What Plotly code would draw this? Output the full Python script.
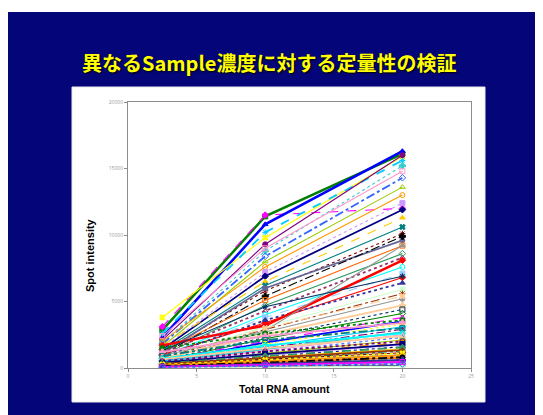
import plotly.graph_objects as go

# ---- data ----
rna_amount = [2.5, 10, 20]
x_tick_vals = [0, 5, 10, 15, 20, 25]
x_tick_text = ["0", "5", "10", "15", "20", "25"]
y_tick_vals = [0, 5000, 10000, 15000, 20000]
y_tick_text = ["0", "5000", "10000", "15000", "20000"]

intensity_at_2_5 = [2850, 3100, 2300, 3800, 2600, 2100, 1900, 2400, 1800, 1600,
                    2000, 1500, 1400, 1700, 1300, 1200, 1100, 1000, 1250, 950,
                    1100, 900, 800, 1000, 850, 700, 750, 650, 700, 600,
                    550, 600, 500, 450, 500, 400, 450, 350, 400, 300,
                    350, 250, 300, 200, 250, 150, 200, 150, 120, 100,
                    90, 80, 60, 50, 40, 30, 1700, 900, 600, 1300,
                    1500, 1200, 900, 700, 650, 500, 400, 350, 300, 250,
                    200, 150, 100, 80, 60]
intensity_at_10 = [11400, 11500, 10800, 9800, 10200, 9300, 8800, 9000, 8400, 8000,
                   7600, 7200, 6900, 6500, 6200, 5800, 6000, 5400, 5100, 4700,
                   4300, 4000, 3800, 3400, 3600, 3100, 2900, 2700, 2500, 2300,
                   2200, 2000, 1900, 1800, 1600, 1500, 1400, 1300, 1200, 1100,
                   1000, 950, 850, 800, 700, 650, 550, 480, 420, 350,
                   300, 250, 200, 150, 100, 70, 3200, 2800, 3000, 4600,
                   2600, 2400, 2100, 1700, 1500, 1250, 1050, 900, 750, 600,
                   500, 400, 320, 240, 170]
intensity_at_20 = [16100, 12000, 16300, 15900, 15600, 16000, 15200, 14800, 14300, 13600,
                   13000, 12400, 11900, 11300, 10600, 10100, 9600, 9900, 9200, 8600,
                   8300, 7600, 7100, 6800, 6400, 5900, 5600, 5200, 4700, 4400,
                   4100, 3800, 3500, 3300, 3100, 2900, 2700, 2500, 2300, 2100,
                   1900, 1750, 1600, 1450, 1300, 1150, 1000, 900, 780, 650,
                   550, 450, 350, 250, 180, 120, 8100, 9200, 5400, 6900,
                   3600, 3400, 3000, 2600, 2400, 2000, 1800, 1550, 1350, 1100,
                   950, 800, 600, 450, 300]

# ---- styles ----
palette = ["#008000", "#FF00FF", "#0000FF", "#FFFF00", "#00CCFF", "#800080", "#33CCCC",
           "#FF99CC", "#3366FF", "#99CC00", "#FF9900", "#CC99FF", "#000080", "#FFCC00",
           "#008080", "#800000", "#666699", "#000000", "#FF6600", "#339966",
           "#993366", "#00FFFF", "#99CCFF", "#FF0000", "#333399", "#CCFFCC", "#993300",
           "#969696", "#FFCC99", "#003366"]
markers = ["square", "diamond", "triangle-up", "x", "asterisk", "circle", "cross",
           "square-open", "diamond-open", "triangle-up-open", "circle-open"]
dashes = ["solid", "solid", "dot", "solid", "dash", "solid", "dot", "solid", "dashdot"]

fig = go.Figure()
n = len(intensity_at_20)
for i in range(n):
    col = palette[(i * 7) % len(palette)] if i >= 60 else palette[i % len(palette)]
    width = 2.5 if i in (0, 2, 56) else (1.8 if i % 4 == 0 or i >= 60 else 1.1)
    dash = "solid" if i in (0, 2, 56) else dashes[i % len(dashes)]
    if i == 1:
        dash = "dash"
    if i == 56:
        col = "#FF0000"
    fig.add_trace(go.Scatter(
        x=rna_amount,
        y=[intensity_at_2_5[i], intensity_at_10[i], intensity_at_20[i]],
        mode="lines+markers",
        line=dict(color=col, width=width, dash=dash),
        marker=dict(symbol=markers[i % len(markers)], size=5, color=col,
                    line=dict(color=col, width=1)),
        showlegend=False,
        hoverinfo="skip",
    ))

# page body has an 8px margin; work in reference-pixel coordinates and shift
OFF = 8
W, H = 543 - OFF, 415 - OFF
L, R, T, B = 128 - OFF, 471 - OFF, 102 - OFF, 368 - OFF
pw, ph = R - L, B - T


def px(x):
    return (x - OFF - L) / pw


def py(y):
    return (B - (y - OFF)) / ph


shapes = [
    dict(type="rect", xref="paper", yref="paper", x0=px(7), x1=px(545), y0=py(417), y1=py(12),
         fillcolor="#05057A", line=dict(width=0), layer="below"),
    dict(type="rect", xref="paper", yref="paper", x0=px(72), x1=px(485), y0=py(402), y1=py(87),
         fillcolor="#FFFFFF", line=dict(color="#E8E8E8", width=1), layer="below"),
]

annotations = [
    dict(text="異なるSample濃度に対する定量性の検証", xref="paper", yref="paper",
         x=px(269), y=py(63), showarrow=False, xanchor="center", yanchor="middle",
         font=dict(family="Noto Sans CJK JP", size=20, color="#FFFF00", weight="bold",
                   shadow="1px 1px 2px #000000")),
    dict(text="Spot intensity", xref="paper", yref="paper", x=px(90), y=py(255),
         showarrow=False, textangle=-90, xanchor="center", yanchor="middle",
         font=dict(family="Liberation Sans", size=11, color="#000000", weight="bold")),
    dict(text="Total RNA amount", xref="paper", yref="paper", x=px(284), y=py(389),
         showarrow=False, xanchor="center", yanchor="middle",
         font=dict(family="Liberation Sans", size=10.5, color="#000000", weight="bold")),
]

fig.update_layout(
    width=W, height=H,
    margin=dict(l=L, r=W - R, t=T, b=H - B, pad=0),
    paper_bgcolor="#FFFFFF",
    plot_bgcolor="rgba(0,0,0,0)",
    shapes=shapes,
    annotations=annotations,
    xaxis=dict(range=[0, 25], tickvals=x_tick_vals, ticktext=x_tick_text,
               showgrid=False, zeroline=False, showline=True, mirror=True,
               linecolor="#8C8C8C", linewidth=1, ticks="outside", ticklen=3,
               tickcolor="#8C8C8C", tickfont=dict(size=5, color="#9A9A9A")),
    yaxis=dict(range=[0, 20000], tickvals=y_tick_vals, ticktext=y_tick_text,
               showgrid=False, zeroline=False, showline=True, mirror=True,
               linecolor="#8C8C8C", linewidth=1, ticks="outside", ticklen=3,
               tickcolor="#8C8C8C", tickfont=dict(size=5, color="#9A9A9A")),
)

fig.write_html("out.html")
